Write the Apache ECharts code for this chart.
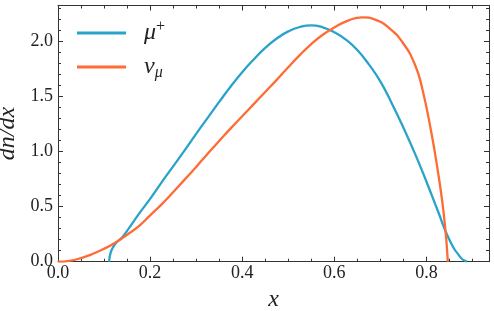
<!DOCTYPE html>
<html><head><meta charset="utf-8">
<script src="https://cdn.jsdelivr.net/npm/echarts@6/dist/echarts.min.js"></script>
<style>html,body{margin:0;padding:0;background:#fff}#c{width:494px;height:311px}</style>
</head><body><div id="c"></div>
<script>
const muX = [0.111,0.113,0.117,0.125,0.14,0.15,0.175,0.2,0.225,0.25,0.275,0.3,0.325,0.35,0.375,0.4,0.425,0.45,0.475,0.5,0.525,0.55,0.575,0.6,0.625,0.65,0.675,0.7,0.725,0.75,0.775,0.8,0.825,0.85,0.875,0.888];
const muY = [0,0.06,0.11,0.165,0.225,0.28,0.43,0.57,0.72,0.865,1.01,1.16,1.305,1.45,1.59,1.72,1.835,1.94,2.025,2.09,2.13,2.145,2.127,2.083,2.016,1.921,1.791,1.636,1.436,1.218,0.983,0.728,0.46,0.2,0.035,0];
const nuX = [0,0.025,0.05,0.075,0.1,0.125,0.15,0.175,0.2,0.225,0.25,0.275,0.3,0.325,0.35,0.375,0.4,0.425,0.45,0.475,0.5,0.525,0.55,0.575,0.6,0.63,0.66,0.69,0.72,0.75,0.775,0.79,0.81,0.825,0.835,0.842,0.845,0.8465];
const nuY = [0,0.008,0.033,0.07,0.117,0.175,0.245,0.32,0.42,0.52,0.63,0.745,0.86,0.98,1.095,1.21,1.32,1.43,1.54,1.65,1.765,1.875,1.975,2.06,2.125,2.188,2.218,2.195,2.118,1.98,1.79,1.59,1.19,0.82,0.53,0.26,0.1,0];
const xTicks = [0.0,0.2,0.4,0.6,0.8];
const yTicks = [0.0,0.5,1.0,1.5,2.0];
const names = ['μ+','νμ'];

const FONT = 'Liberation Serif';
const AX = '#333';
const chart = echarts.init(document.getElementById('c'), null, {renderer:'canvas'});
const pair = (xs, ys) => xs.map((x,i)=>[x, ys[i]]);
function xa(show, pos){
  return {type:'value', position:pos, min:0, max:0.936, interval:0.2,
    axisLine:{show:true, onZero:false, lineStyle:{color:AX,width:1}},
    axisTick:{show:true, inside:true, length:5, lineStyle:{color:AX}},
    minorTick:{show:true, splitNumber:4, length:3, lineStyle:{color:AX}},
    splitLine:{show:false},
    axisLabel:{show:show, color:'#222', fontFamily:FONT, fontSize:18, margin:3,
      formatter:v=>xTicks.some(t=>Math.abs(t-v)<1e-9)?v.toFixed(1):''},
    name: show?'x':'', nameLocation:'middle', nameGap:25,
    nameTextStyle:{fontFamily:FONT, fontStyle:'italic', fontSize:24, color:'#222'}
  };
}
function ya(show, pos){
  return {type:'value', position:pos, min:0, max:2.325, interval:0.5,
    axisLine:{show:true, onZero:false, lineStyle:{color:AX,width:1}},
    axisTick:{show:true, inside:true, length:5, lineStyle:{color:AX}},
    minorTick:{show:true, splitNumber:5, length:3, lineStyle:{color:AX}},
    splitLine:{show:false},
    axisLabel:{show:show, color:'#222', fontFamily:FONT, fontSize:18, margin:5,
      formatter:v=>yTicks.some(t=>Math.abs(t-v)<1e-9)?v.toFixed(1):''},
    name: show?'dn/dx':'', nameLocation:'middle', nameGap:27, nameRotate:90,
    nameTextStyle:{fontFamily:FONT, fontStyle:'italic', fontSize:24, color:'#222'}
  };
}
chart.setOption({
  animation:false,
  grid:{left:58, right:5, top:5.5, bottom:49.3, containLabel:false, outerBoundsMode:'none'},
  xAxis:[xa(true,'bottom'), xa(false,'top')],
  yAxis:[ya(true,'left'), ya(false,'right')],
  legend:{
    left:77, top:19, orient:'vertical', itemGap:10, padding:0,
    itemWidth:49, itemHeight:3, icon:'rect',
    data:names,
    formatter:n=> n==='μ+' ? '{m|μ}{s|+}' : '{m|ν}{b|μ}',
    textStyle:{fontFamily:FONT, color:'#222', padding:[0,0,0,13],
      rich:{
        m:{fontFamily:FONT, fontStyle:'italic', fontSize:24, color:'#222'},
        s:{fontFamily:FONT, fontSize:16, color:'#222', verticalAlign:'top', padding:[0,0,12,0]},
        b:{fontFamily:FONT, fontStyle:'italic', fontSize:16, color:'#222', verticalAlign:'bottom', padding:[12,0,0,0]}
      }}
  },
  series:[
    {name:names[0], type:'line', data:pair(muX,muY), smooth:0.5, showSymbol:false,
     lineStyle:{color:'#29a3c9', width:2.3}, itemStyle:{color:'#29a3c9'}},
    {name:names[1], type:'line', data:pair(nuX,nuY), smooth:0.5, showSymbol:false,
     lineStyle:{color:'#ff6b35', width:2.3}, itemStyle:{color:'#ff6b35'}}
  ]
});
</script></body></html>
